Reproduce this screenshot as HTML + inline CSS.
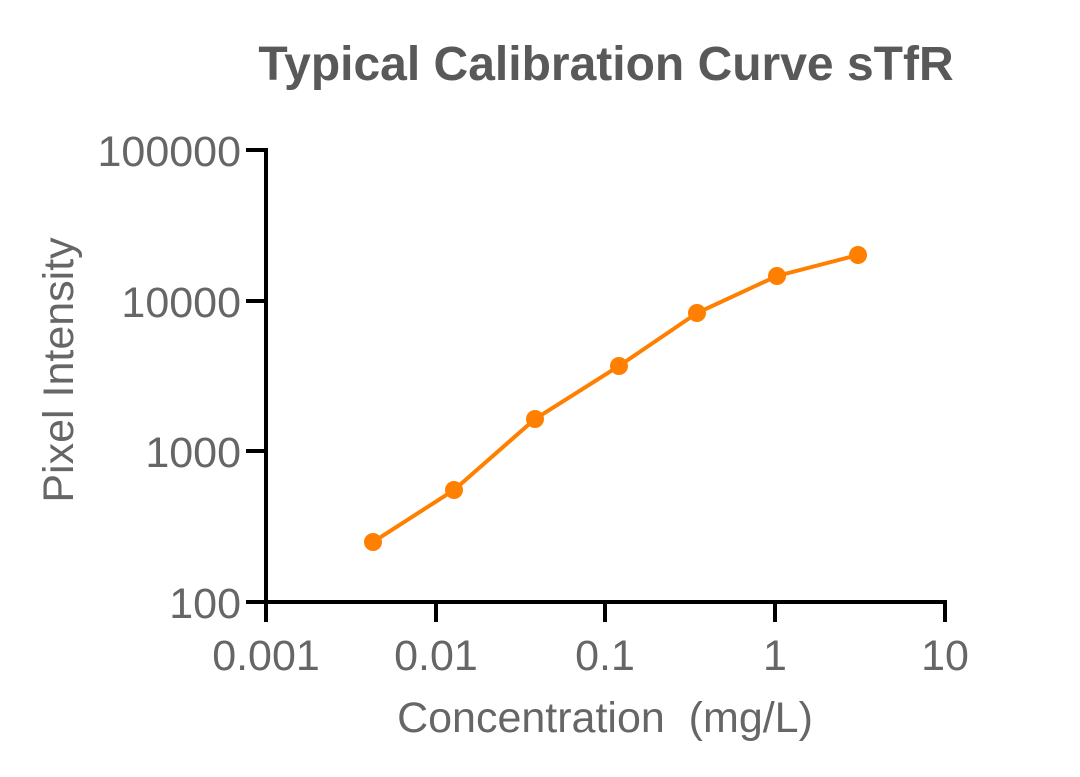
<!DOCTYPE html>
<html><head><meta charset="utf-8"><style>
html,body{margin:0;padding:0;background:#fff;}
</style></head><body>
<svg width="1080" height="772" viewBox="0 0 1080 772" xmlns="http://www.w3.org/2000/svg" font-family="Liberation Sans, Arial, sans-serif">
<rect width="1080" height="772" fill="#fff"/>
<text x="606" y="80" text-anchor="middle" font-size="48" font-weight="bold" fill="#595959">Typical Calibration Curve sTfR</text>
<g stroke="#000" stroke-width="4" fill="none">
<line x1="266" y1="148" x2="266" y2="604"/>
<line x1="264" y1="602" x2="947" y2="602"/>
<line x1="246" y1="150" x2="266" y2="150"/>
<line x1="246" y1="301" x2="266" y2="301"/>
<line x1="246" y1="451" x2="266" y2="451"/>
<line x1="246" y1="602" x2="266" y2="602"/>
<line x1="266" y1="602" x2="266" y2="622"/>
<line x1="436" y1="602" x2="436" y2="622"/>
<line x1="605" y1="602" x2="605" y2="622"/>
<line x1="775" y1="602" x2="775" y2="622"/>
<line x1="945" y1="602" x2="945" y2="622"/>
</g>
<g font-size="43" fill="#666" text-anchor="end">
<text x="241" y="166">100000</text>
<text x="241" y="317">10000</text>
<text x="241" y="467">1000</text>
<text x="241" y="618">100</text>
</g>
<g font-size="43" fill="#666" text-anchor="middle">
<text x="266" y="670">0.001</text>
<text x="436" y="670">0.01</text>
<text x="605" y="670">0.1</text>
<text x="775" y="670">1</text>
<text x="945" y="670">10</text>
</g>
<text x="605" y="732" text-anchor="middle" font-size="43" fill="#666" xml:space="preserve">Concentration  (mg/L)</text>
<text transform="translate(73,370) rotate(-90)" text-anchor="middle" font-size="43" fill="#666">Pixel Intensity</text>
<polyline points="373,542 454,490 535,419 619,366 697,313 777,276 858,255" fill="none" stroke="#FF8000" stroke-width="4"/>
<g fill="#FF8000">
<circle cx="373" cy="542" r="9"/><circle cx="454" cy="490" r="9"/><circle cx="535" cy="419" r="9"/>
<circle cx="619" cy="366" r="9"/><circle cx="697" cy="313" r="9"/><circle cx="777" cy="276" r="9"/>
<circle cx="858" cy="255" r="9"/>
</g>
</svg>
</body></html>
